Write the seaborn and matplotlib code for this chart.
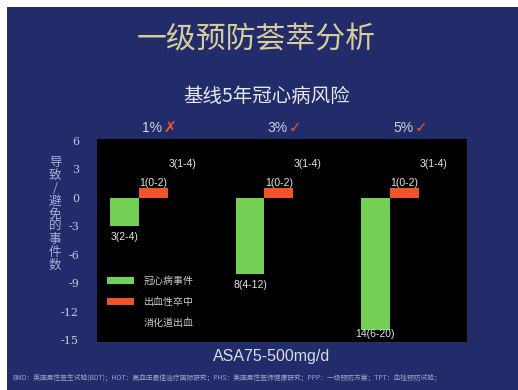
import matplotlib
matplotlib.use("Agg")
import matplotlib.pyplot as plt
from matplotlib.patches import Rectangle
import numpy as np
import pandas as pd
import seaborn as sns

# ---- data ----
risk_groups = ["1%", "3%", "5%"]
risk_marks = ["✗", "✓", "✓"]
event_types = ["冠心病事件", "出血性卒中", "消化道出血"]
chd_events = [-3, -8, -14]          # avoided coronary events
stroke_events = [1, 1, 1]           # caused haemorrhagic strokes
gi_bleed_events = [3, 3, 3]         # caused GI bleeds
chd_labels = ["3(2-4)", "8(4-12)", "14(6-20)"]
stroke_labels = ["1(0-2)", "1(0-2)", "1(0-2)"]
gi_labels = ["3(1-4)", "3(1-4)", "3(1-4)"]
y_ticks = [6, 3, 0, -3, -6, -9, -12, -15]

title = "一级预防荟萃分析"
subtitle = "基线5年冠心病风险"
y_label = "导致/避免的事件数"
footnote = ("BMD：英国男性医生试验(BDT)；HOT：高血压最佳治疗国际研究；PHS：美国男性医师健康研究；"
            "PPP：一级预防方案；TPT：血栓预防试验；")
x_label = "ASA75-500mg/d"

df = pd.DataFrame({
    "risk": risk_groups * 3,
    "event": np.repeat(event_types, 3),
    "value": chd_events + stroke_events + gi_bleed_events,
})

BG = "#222c6a"
sns.set_theme(style="white")
plt.rcParams["font.family"] = ["Noto Sans CJK SC", "DejaVu Sans"]

fig = plt.figure(figsize=(5.18, 3.90), dpi=100, facecolor="white")
fig.add_artist(Rectangle((7 / 518, 0), 1, (390 - 7) / 390, transform=fig.transFigure,
                         facecolor=BG, edgecolor="none", zorder=0))

ax = fig.add_axes([97 / 518, 1 - 342 / 390, 370 / 518, 203 / 390])
ax.set_facecolor("black")

palette = {"冠心病事件": "#72d055", "出血性卒中": "#f0552a", "消化道出血": "black"}
sns.barplot(data=df, x="risk", y="value", hue="event", hue_order=event_types,
            palette=palette, width=0.69, saturation=1, ax=ax, edgecolor="none",
            linewidth=0)

ax.set_xlim(-0.45, 2.5)
ax.set_ylim(-15.22, 6.22)
ax.set_yticks(y_ticks)
ax.set_yticklabels([str(t) for t in y_ticks], family="DejaVu Serif",
                   fontsize=8, color="#c4c8e0")
ax.tick_params(axis="y", length=0, pad=13)
ax.set_xticks([])
ax.set_xlabel("")
ax.set_ylabel("")
for s in ax.spines.values():
    s.set_visible(False)

# value labels
label_kw = dict(family="Liberation Sans", fontsize=7.5, color="#e6e6e6", ha="center")
for cont, labels, kind in zip(ax.containers, [chd_labels, stroke_labels, gi_labels],
                              ["below", "above", "above"]):
    for bar, lab in zip(cont, labels):
        xc = bar.get_x() + bar.get_width() / 2
        h = bar.get_height()
        if kind == "below":
            y = max(h - 1.15, -14.4)
        else:
            y = h + 0.6
        ax.text(xc, y, lab, va="center", **label_kw)

# legend
handles, labels = ax.get_legend_handles_labels()
leg = ax.legend(handles, labels, loc="upper left", bbox_to_anchor=(0.027, 0.325),
                frameon=False, fontsize=7.2, handlelength=2.7, handleheight=0.6,
                labelspacing=1.1, handletextpad=1.0, borderaxespad=0, borderpad=0)
for t in leg.get_texts():
    t.set_color("#c8c8c8")

# titles and annotations
fig.text(256 / 518, 1 - 39 / 390, title, ha="center", va="center", fontsize=21.5,
         color="#d9cc9c", fontweight="light")
fig.text(267 / 518, 1 - 96 / 390, subtitle, ha="center", va="center", fontsize=14,
         color="#e8e8ee", fontweight="medium")

inv = fig.transFigure.inverted()
for i, (g, m) in enumerate(zip(risk_groups, risk_marks)):
    xf = inv.transform(ax.transData.transform((i, 0)))[0]
    fig.text(xf + 9 / 518, 1 - 128 / 390, g, ha="right", va="center", fontsize=10,
             color="#d0d0dc", family="Liberation Sans")
    fig.text(xf + 10 / 518, 1 - 128 / 390, m, ha="left", va="center", fontsize=11,
             color="#f0552a", family="DejaVu Sans", fontweight="bold")

# vertical axis caption, one character per line
fig.text(55 / 518, 1 - 214 / 390, "\n".join(y_label), ha="center", va="center",
         fontsize=9, color="#a9b0d8", linespacing=0.98)

fig.text(272 / 518, 1 - 357 / 390, x_label, ha="center", va="center", fontsize=11.5,
         color="#dcdce8", family="Liberation Sans")
fig.text(12 / 518, 1 - 378 / 390, footnote, ha="left", va="center", fontsize=4.9,
         color="#9ea4cc")

fig.savefig("out.png", dpi=100, facecolor=fig.get_facecolor())
